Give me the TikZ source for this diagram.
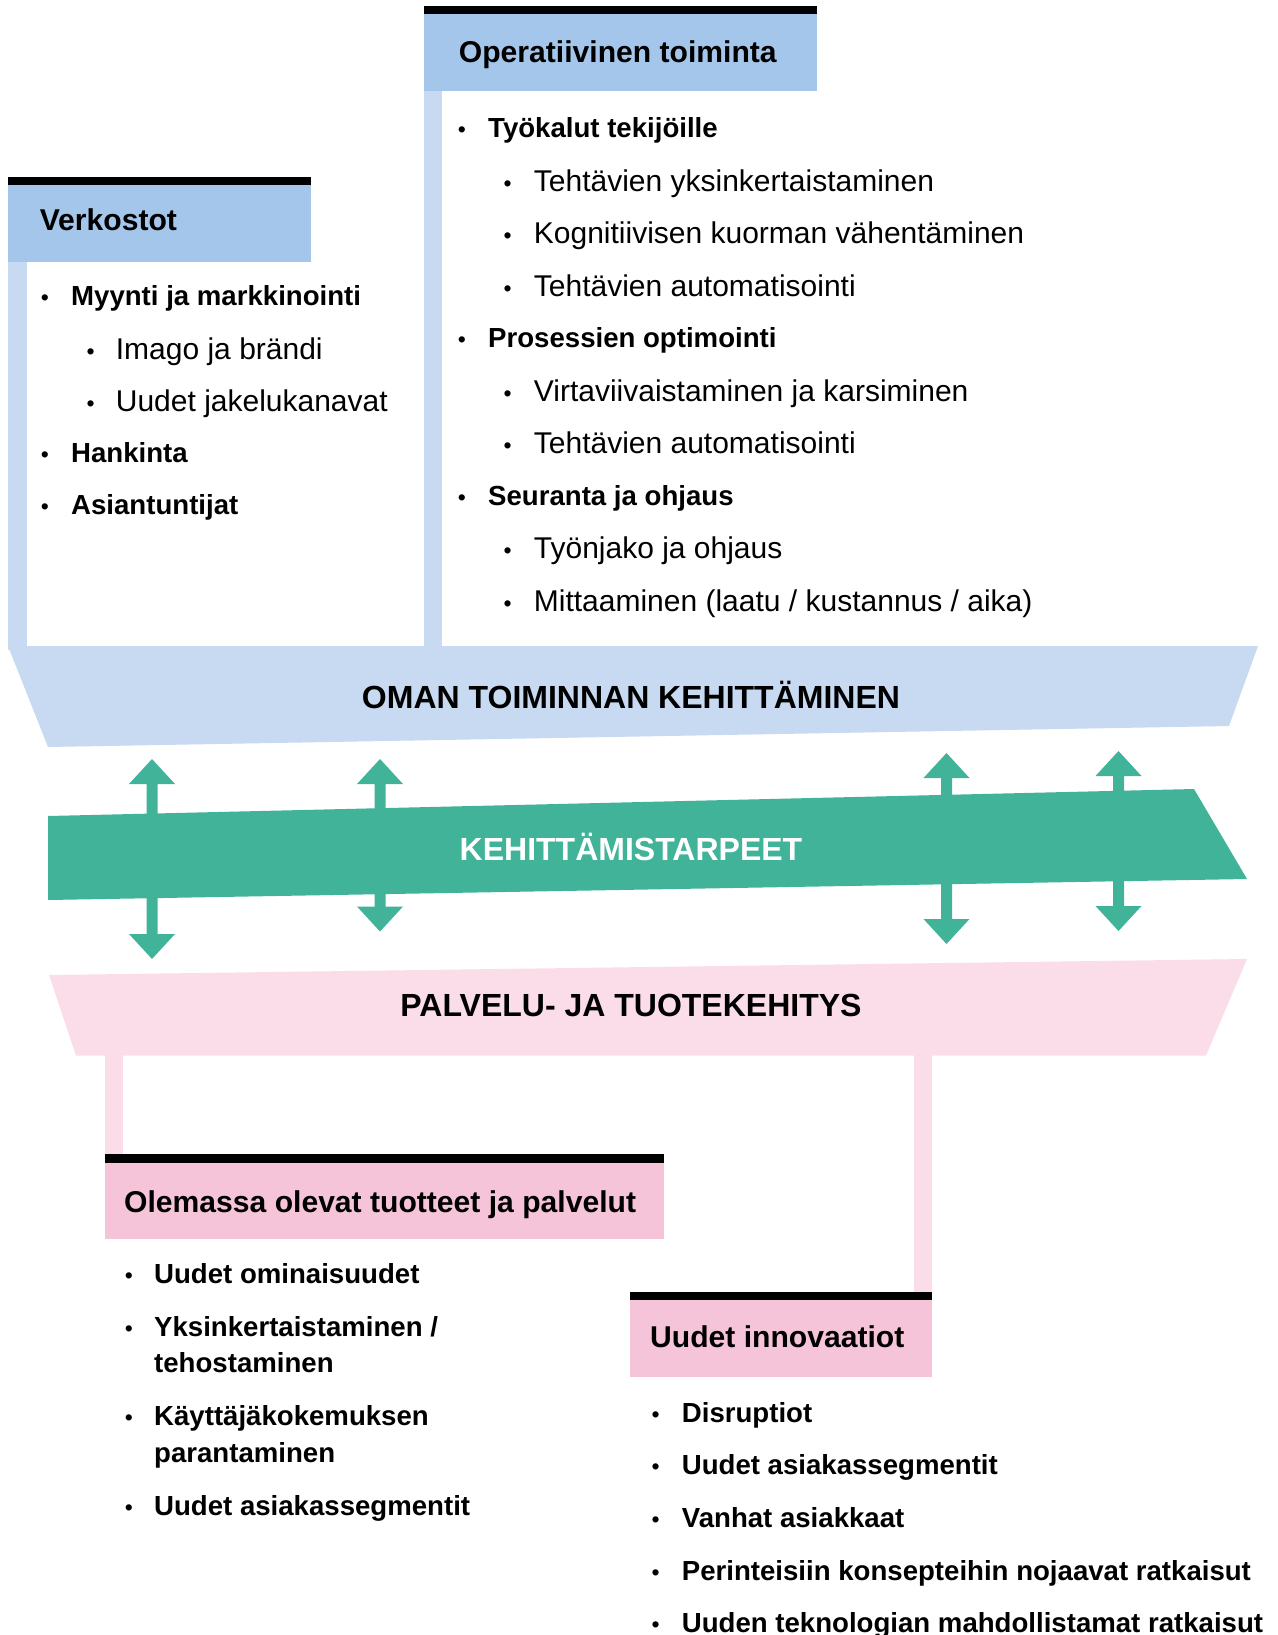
\documentclass[tikz,border=0pt]{standalone}
\usepackage{fontspec}
\setmainfont{Liberation Sans}
\definecolor{hdrblue}{RGB}{164,198,234}
\definecolor{lightblue}{RGB}{200,218,241}
\definecolor{bandgreen}{RGB}{64,179,153}
\definecolor{hdrpink}{RGB}{246,196,216}
\definecolor{lightpink}{RGB}{250,221,233}
\tikzset{
  dot/.style={font=\fontsize{23}{23}\selectfont, anchor=base, inner sep=0pt},
  reg/.style={font=\fontsize{30}{36}\selectfont, anchor=base west, inner sep=0pt},
  bld/.style={font=\fontsize{27.6}{34}\selectfont\bfseries, anchor=base west, inner sep=0pt},
  hdr/.style={font=\fontsize{30.1}{36}\selectfont\bfseries, anchor=base west, inner sep=0pt},
  bandtext/.style={font=\fontsize{32}{38}\selectfont\bfseries, anchor=base, inner sep=0pt},
}
% one bulleted row: name, bullet x, text x, baseline y, style, text
\newcommand\listrow[6]{%
  \node[dot] (#1b) at (#2,#4) {•};
  \node[#5] (#1) at (#3,#4) {#6};}
% double-headed arrow: x, top tip y, bottom tip y
\newcommand\twowayarrow[3]{%
  \fill[bandgreen] (#1,#2) -- (#1+23,#2+25) -- (#1+5.5,#2+25) -- (#1+5.5,#3-25)
    -- (#1+23,#3-25) -- (#1,#3) -- (#1-23,#3-25) -- (#1-5.5,#3-25)
    -- (#1-5.5,#2+25) -- (#1-23,#2+25) -- cycle;}
\begin{document}
\begin{tikzpicture}[x=1pt,y=-1pt]
\useasboundingbox (0,0) rectangle (1277,1635);
\fill[white] (0,0) rectangle (1277,1635);

% side rails of the upper columns
\fill[lightblue] (8,184) rectangle (26.5,650);
\fill[lightblue] (424,14) rectangle (442,650);
% rails down to the lower columns
\fill[lightpink] (105,1050) rectangle (123,1155);
\fill[lightpink] (914,1050) rectangle (932,1293);

% upper band
\fill[lightblue] (8,646) -- (1258,646) -- (1229,726) -- (48,747) -- cycle;
\node[bandtext] (oman) at (631,708) {OMAN TOIMINNAN KEHITTÄMINEN};

% lower band
\fill[lightpink] (49,975) -- (1247,959) -- (1206,1055.5) -- (76,1055.5) -- cycle;
\node[bandtext] (palvelu) at (631,1016) {PALVELU- JA TUOTEKEHITYS};

% arrows between the bands
\twowayarrow{152}{759}{959}
\twowayarrow{380}{759}{931.5}
\twowayarrow{946.5}{753}{944}
\twowayarrow{1118.5}{751}{931}

% middle band
\fill[bandgreen] (48,816) -- (1194,789) -- (1247,879) -- (48,900) -- cycle;
\node[bandtext, text=white] (tarpeet) at (631,860) {KEHITTÄMISTARPEET};

% headers
\fill[black] (8,177) rectangle (311,184.5);
\fill[hdrblue] (8,184.5) rectangle (311,261.5);
\node[hdr] (verkostot) at (39.6,230) {Verkostot};

\fill[black] (424,6) rectangle (817,14);
\fill[hdrblue] (424,14) rectangle (817,91);
\node[hdr] (operatiivinen) at (458.7,63) {Operatiivinen toiminta};

\fill[black] (105,1154) rectangle (664,1162.5);
\fill[hdrpink] (105,1162.5) rectangle (664,1238.5);
\node[hdr] (olemassa) at (124,1212.7) {Olemassa olevat tuotteet ja palvelut};

\fill[black] (630,1292) rectangle (932,1300);
\fill[hdrpink] (630,1300) rectangle (932,1376.5);
\node[hdr] (innovaatiot) at (650,1347) {Uudet innovaatiot};

% Verkostot list
\listrow{v1}{45}{71}{305.3}{bld}{Myynti ja markkinointi}
\listrow{v2}{90.7}{115.7}{359}{reg}{Imago ja brändi}
\listrow{v3}{90.7}{115.7}{411.3}{reg}{Uudet jakelukanavat}
\listrow{v4}{45}{71}{462.2}{bld}{Hankinta}
\listrow{v5}{45}{71}{514.5}{bld}{Asiantuntijat}

% Operatiivinen toiminta list
\listrow{o1}{462}{488}{137.5}{bld}{Työkalut tekijöille}
\listrow{o2}{507.6}{533.7}{191.4}{reg}{Tehtävien yksinkertaistaminen}
\listrow{o3}{507.6}{533.7}{243.8}{reg}{Kognitiivisen kuorman vähentäminen}
\listrow{o4}{507.6}{533.7}{296.2}{reg}{Tehtävien automatisointi}
\listrow{o5}{462}{488}{347.6}{bld}{Prosessien optimointi}
\listrow{o6}{507.6}{533.7}{401}{reg}{Virtaviivaistaminen ja karsiminen}
\listrow{o7}{507.6}{533.7}{453.4}{reg}{Tehtävien automatisointi}
\listrow{o8}{462}{488}{505}{bld}{Seuranta ja ohjaus}
\listrow{o9}{507.6}{533.7}{558.2}{reg}{Työnjako ja ohjaus}
\listrow{o10}{507.6}{533.7}{611}{reg}{Mittaaminen (laatu / kustannus / aika)}

% Olemassa olevat list
\listrow{e1}{129}{154}{1283.1}{bld}{Uudet ominaisuudet}
\listrow{e2}{129}{154}{1336.3}{bld}{Yksinkertaistaminen /}
\node[bld] (e2c) at (154,1372.8) {tehostaminen};
\listrow{e3}{129}{154}{1425.9}{bld}{Käyttäjäkokemuksen}
\node[bld] (e3c) at (154,1462.3) {parantaminen};
\listrow{e4}{129}{154}{1515.5}{bld}{Uudet asiakassegmentit}

% Uudet innovaatiot list
\listrow{i1}{655.7}{681.7}{1422.8}{bld}{Disruptiot}
\listrow{i2}{655.7}{681.7}{1474.9}{bld}{Uudet asiakassegmentit}
\listrow{i3}{655.7}{681.7}{1527}{bld}{Vanhat asiakkaat}
\listrow{i4}{655.7}{681.7}{1580.1}{bld}{Perinteisiin konsepteihin nojaavat ratkaisut}
\listrow{i5}{655.7}{681.7}{1632.3}{bld}{Uuden teknologian mahdollistamat ratkaisut}
\end{tikzpicture}
\end{document}
